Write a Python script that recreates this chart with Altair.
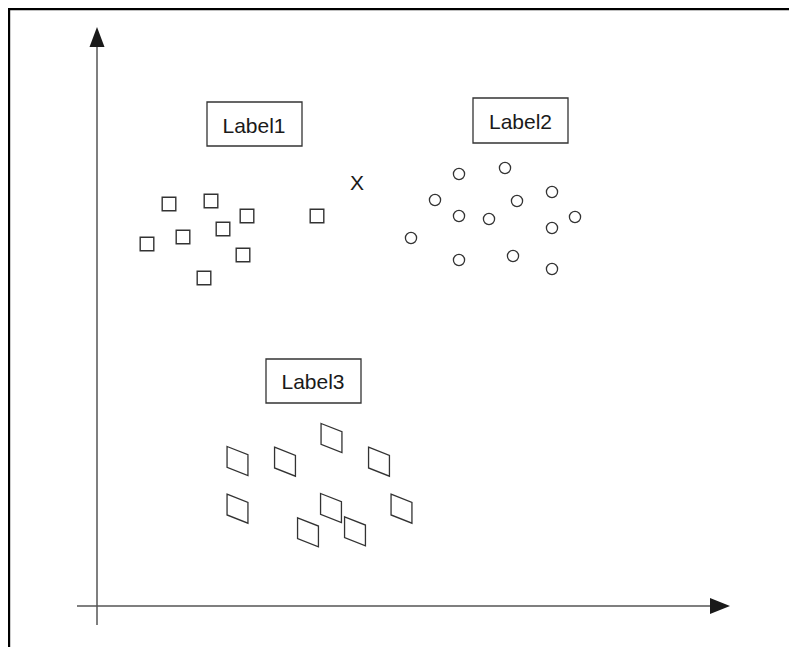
import altair as alt
import pandas as pd

# Data coordinates: origin at the axes' crossing point (units ~ pixels)
sq_x = [72, 114, 150, 220, 50, 86, 126, 146, 107]
sq_y = [402, 405, 390, 390, 362, 369, 377, 351, 328]

ci_x = [362, 408, 338, 362, 392, 420, 455, 478, 455, 314, 362, 416, 455]
ci_y = [432, 438, 406, 390, 387, 405, 414, 389, 378, 368, 346, 350, 337]

pg_x = [234.5, 140.5, 188, 282, 140.5, 234, 304.5, 211, 258]
pg_y = [168, 145, 144.3, 144.3, 97.3, 98, 97.3, 73.7, 74.7]

label_text = ["Label1", "Label2", "Label3"]
label_box_x = [110, 376, 169]
label_box_x2 = [205, 471, 264]
label_box_y = [460, 463, 203]
label_box_y2 = [504, 508, 247]
label_tx = [157, 423.5, 216]
label_ty = [473.3, 476.7, 216.7]

mark_x_text = ["X"]
mark_x_x = [260]
mark_x_y = [416]

axis_x_range = [-20, 625]
axis_y_range = [-19, 560]
arrow_x_pos = [623, 0]
arrow_y_pos = [0, 569]

W, H = 781, 639
xs = alt.Scale(domain=[-89, 692], nice=False, zero=False)
ys = alt.Scale(domain=[-41, 598], nice=False, zero=False)

def X(f="x"):
    return alt.X(f"{f}:Q", scale=xs, axis=None)

def Y(f="y"):
    return alt.Y(f"{f}:Q", scale=ys, axis=None)

one = pd.DataFrame({"a": [0]})

frame_left = alt.Chart(one).mark_rule(color="#000", strokeWidth=2.4).encode(
    x=alt.value(1), y=alt.value(0), y2=alt.value(H))
frame_top = alt.Chart(one).mark_rule(color="#000", strokeWidth=2.4).encode(
    y=alt.value(1), x=alt.value(0), x2=alt.value(W))

hx = pd.DataFrame({"x": [axis_x_range[0]], "x2": [axis_x_range[1]], "y": [0]})
hy = pd.DataFrame({"y": [axis_y_range[0]], "y2": [axis_y_range[1]], "x": [0]})
axis_h = alt.Chart(hx).mark_rule(color="#555", strokeWidth=1.5).encode(
    x=X(), x2="x2:Q", y=Y())
axis_v = alt.Chart(hy).mark_rule(color="#555", strokeWidth=1.5).encode(
    y=Y(), y2="y2:Q", x=X())

arr_r = alt.Chart(pd.DataFrame({"x": [arrow_x_pos[0]], "y": [arrow_x_pos[1]]})).mark_point(
    shape="M -1 -0.8 L 1 0 L -1 0.8 Z", filled=True, color="#1a1a1a", opacity=1,
    size=400, strokeWidth=0).encode(x=X(), y=Y())
arr_u = alt.Chart(pd.DataFrame({"x": [arrow_y_pos[0]], "y": [arrow_y_pos[1]]})).mark_point(
    shape="M -0.75 1 L 0 -1 L 0.75 1 Z", filled=True, color="#1a1a1a", opacity=1,
    size=400, strokeWidth=0).encode(x=X(), y=Y())

squares = alt.Chart(pd.DataFrame({"x": sq_x, "y": sq_y})).mark_point(
    shape="square", filled=False, color="#333", opacity=1, size=185, strokeWidth=1.4
).encode(x=X(), y=Y())

circles = alt.Chart(pd.DataFrame({"x": ci_x, "y": ci_y})).mark_point(
    shape="circle", filled=False, color="#333", opacity=1, size=125, strokeWidth=1.3
).encode(x=X(), y=Y())

paras = alt.Chart(pd.DataFrame({"x": pg_x, "y": pg_y})).mark_point(
    shape="M -0.72 -1 L 0.72 -0.43 L 0.72 1 L -0.72 0.43 Z", filled=False,
    color="#333", opacity=1, size=841, strokeWidth=1.3
).encode(x=X(), y=Y())

lab = pd.DataFrame({
    "text": label_text, "bx": label_box_x, "bx2": label_box_x2,
    "by": label_box_y, "by2": label_box_y2, "tx": label_tx, "ty": label_ty,
})
boxes = alt.Chart(lab).mark_rect(fill="white", stroke="#333", strokeWidth=1.3).encode(
    x=X("bx"), x2="bx2:Q", y=Y("by"), y2="by2:Q")
texts = alt.Chart(lab).mark_text(
    font="Liberation Sans", fontSize=21, color="#1a1a1a", align="center",
    baseline="alphabetic").encode(x=X("tx"), y=Y("ty"), text="text:N")

xmark = alt.Chart(pd.DataFrame({"x": mark_x_x, "y": mark_x_y, "t": mark_x_text})).mark_text(
    font="Liberation Sans", fontSize=21, color="#1a1a1a", align="center",
    baseline="alphabetic").encode(x=X(), y=Y(), text="t:N")

chart = alt.layer(
    frame_left, frame_top, axis_h, axis_v, arr_r, arr_u,
    squares, circles, paras, boxes, texts, xmark
).properties(
    width=W, height=H, autosize=alt.AutoSizeParams(type="none"), padding=0
).configure_view(stroke=None)

chart.save("out.html", embed_options={"renderer": "svg", "actions": False})
